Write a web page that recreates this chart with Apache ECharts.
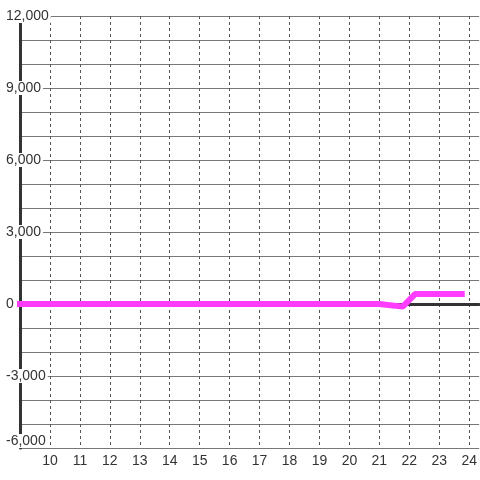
<!DOCTYPE html>
<html>
<head>
<meta charset="utf-8">
<script src="https://cdn.jsdelivr.net/npm/echarts@6/dist/echarts.min.js"></script>
<style>
  html, body { margin: 0; padding: 0; background: #fff; }
  #chart { width: 480px; height: 480px; }
</style>
</head>
<body>
<div id="chart"></div>
<script>
// hours on the x axis, values on the y axis
const hours = [9, 21, 21.78, 22.2, 23.75];
const values = [0, 0, -110, 420, 420];
const yTicks = [-6000, -3000, 0, 3000, 6000, 9000, 12000];

const myChart = echarts.init(document.getElementById('chart'));

const seriesData = hours.map((h, i) => [h, values[i]]);

const xMin = 9;
const xMax = 24.333;

// one colour per vertical split line; the last one sits on the right edge and is hidden
const splitColors = [];
for (let v = xMin; v <= Math.floor(xMax); v++) splitColors.push('#555');
splitColors.push('rgba(0,0,0,0)');

const option = {
  animation: false,
  textStyle: { fontFamily: 'Liberation Sans' },
  grid: { left: 20, right: 0, top: 16, bottom: 32 },
  xAxis: [
    {
      type: 'value',
      min: xMin,
      max: xMax,
      interval: 1,
      axisLine: { show: false, onZero: false },
      axisTick: { show: false },
      axisLabel: {
        color: '#333',
        fontSize: 14,
        margin: 6,
        showMinLabel: false,
        showMaxLabel: false
      },
      splitLine: {
        show: true,
        lineStyle: { color: splitColors, type: [3, 3], width: 1 }
      }
    },
    {
      // zero line
      type: 'value',
      min: xMin,
      max: xMax,
      position: 'top',
      axisLine: { show: true, onZero: true, lineStyle: { color: '#333', width: 3 } },
      axisTick: { show: false },
      axisLabel: { show: false },
      splitLine: { show: false }
    }
  ],
  yAxis: {
    type: 'value',
    min: yTicks[0],
    max: yTicks[yTicks.length - 1],
    interval: 3000,
    axisLine: { show: true, lineStyle: { color: '#333', width: 3 } },
    axisTick: { show: false },
    minorTick: { show: false, splitNumber: 3 },
    axisLabel: {
      color: '#333',
      fontSize: 14,
      align: 'left',
      margin: 14,
      backgroundColor: '#fff',
      padding: [0, 2, 0, 0],
      verticalAlignMinLabel: 'bottom',
      formatter: v => v.toLocaleString('en-US')
    },
    splitLine: { show: true, lineStyle: { color: '#777', width: 1 } },
    minorSplitLine: { show: true, lineStyle: { color: '#777', width: 1 } }
  },
  series: [
    {
      type: 'line',
      xAxisIndex: 0,
      data: seriesData,
      symbol: 'none',
      clip: false,
      z: 5,
      lineStyle: { color: '#ff3cff', width: 6, cap: 'square' }
    }
  ]
};

myChart.setOption(option);
</script>
</body>
</html>
